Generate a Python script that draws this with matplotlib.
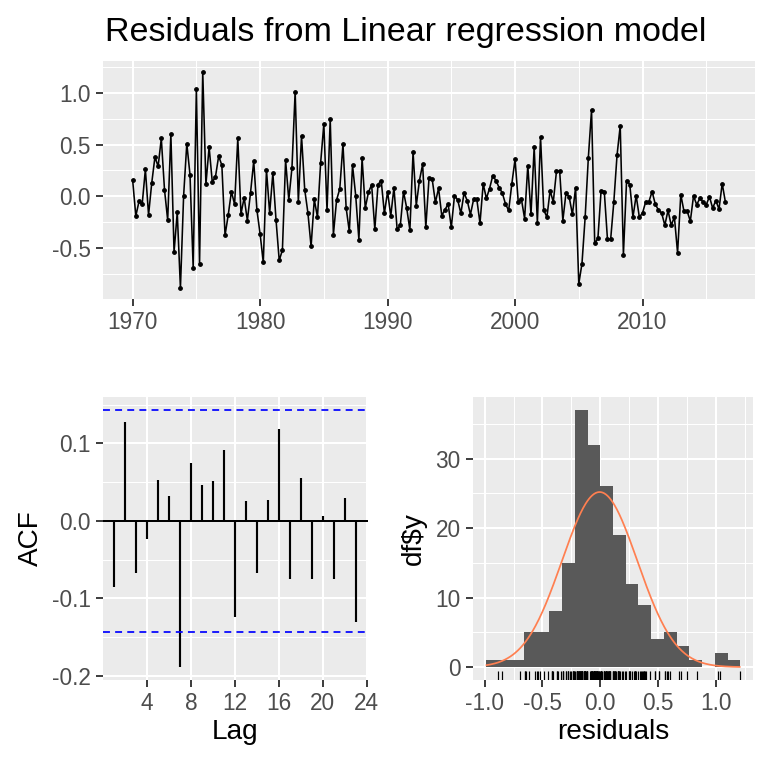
import numpy as np
import matplotlib
matplotlib.use("Agg")
import matplotlib.pyplot as plt
from matplotlib.ticker import FixedLocator

# ----- Data -----
start_year = 1970.0
freq = 4
residuals = [
    0.16, -0.19, -0.05, -0.075, 0.26, -0.18, 0.13, 0.38, 0.29, 0.56,
    0.065, -0.23, 0.60, -0.54, -0.156, -0.885, 0.004, 0.51, 0.21, -0.69,
    1.035, -0.65, 1.205, 0.117, 0.476, 0.137, 0.19, 0.39, 0.30, -0.377,
    -0.18, 0.046, -0.078, 0.56, -0.17, -0.013, -0.234, 0.036, 0.34, -0.133,
    -0.364, -0.64, 0.254, -0.162, 0.225, -0.23, -0.62, -0.52, 0.35, -0.035,
    0.277, 1.013, -0.055, 0.583, 0.065, -0.16, -0.485, -0.03, -0.2, 0.325,
    0.70, -0.137, 0.746, -0.37, -0.035, 0.072, 0.505, -0.112, -0.34, 0.30,
    0.007, -0.42, 0.368, -0.113, 0.039, 0.111, -0.32, 0.114, 0.153, -0.166,
    0.046, -0.19, 0.085, -0.32, -0.28, 0.046, -0.113, -0.325, 0.427, -0.09,
    0.153, 0.31, -0.30, 0.173, 0.166, -0.059, 0.078, -0.186, -0.13, -0.074,
    -0.30, 0.007, -0.035, -0.166, 0.033, -0.042, -0.176, -0.029, -0.029, -0.26,
    0.121, -0.02, 0.075, 0.199, 0.153, 0.085, 0.033, -0.074, -0.137, 0.124,
    0.358, -0.052,
    -0.029, -0.215, 0.297, -0.175, 0.476, -0.254, 0.573, -0.133, -0.201, 0.056,
    -0.055, 0.244, 0.244, -0.234, 0.036, -0.009, -0.175, 0.085, -0.846, -0.651,
    -0.201, 0.375, 0.834, -0.455, -0.407, 0.056, 0.046, -0.416, -0.416, -0.052,
    0.397, 0.681, -0.563, 0.153, 0.114, -0.201, 0.007, -0.201, -0.162, -0.052,
    -0.052, 0.046, -0.075, -0.133, -0.162, -0.28, -0.136, -0.28, -0.201, -0.547,
    0.017, -0.143, -0.143, -0.24, 0.003, -0.081, -0.019, -0.055, -0.081, -0.003,
    -0.114, -0.042, -0.123, 0.124, -0.055,
]
acf_lags = list(range(1, 24))
acf_values = [
    -0.085, 0.128, -0.067, -0.023, 0.053, 0.032, -0.189, 0.075, 0.046, 0.052,
    0.091, -0.124, 0.025, -0.067, 0.027, 0.119, -0.075, 0.055, -0.075, 0.006,
    -0.075, 0.029, -0.131,
]
hist_bins = 19

res = np.array(residuals)
n = len(res)
time = start_year + np.arange(n) / freq

# ----- Style -----
plt.rcParams['font.family'] = ['Liberation Sans', 'DejaVu Sans']
plt.rcParams['axes.unicode_minus'] = False
panel_bg = "#EBEBEB"
tick_col = "#4D4D4D"
tick_size = 17
title_size = 21


def gg_axes(ax, xmajor, xminor, ymajor, yminor):
    ax.set_facecolor(panel_bg)
    for s in ax.spines.values():
        s.set_visible(False)
    ax.xaxis.set_major_locator(FixedLocator(xmajor))
    ax.yaxis.set_major_locator(FixedLocator(ymajor))
    ax.xaxis.set_minor_locator(FixedLocator(xminor))
    ax.yaxis.set_minor_locator(FixedLocator(yminor))
    ax.grid(which="major", color="white", linewidth=1.5)
    ax.grid(which="minor", color="white", linewidth=0.75)
    ax.set_axisbelow(True)
    ax.tick_params(which="major", length=5.3, width=1.4, color="#333333",
                   labelsize=tick_size, labelcolor=tick_col, pad=4)
    ax.tick_params(which="minor", length=0)


fig = plt.figure(figsize=(8, 8), dpi=96)

# ----- Time plot -----
ax1 = fig.add_axes([0.1341, 0.6112, 0.849, 0.3094])
gg_axes(ax1, [1970, 1980, 1990, 2000, 2010], [1975, 1985, 1995, 2005, 2015],
        [-0.5, 0.0, 0.5, 1.0], [-0.75, -0.25, 0.25, 0.75, 1.25])
ax1.plot(time, res, color="black", linewidth=1.2, zorder=3)
ax1.plot(time, res, "o", color="black", markersize=2.6, zorder=4)
xr = time.max() - time.min()
ax1.set_xlim(time.min() - 0.05 * xr, time.max() + 0.05 * xr)
yr = res.max() - res.min()
ax1.set_ylim(res.min() - 0.05 * yr, res.max() + 0.05 * yr)
ax1.set_yticklabels(["-0.5", "0.0", "0.5", "1.0"])
fig.text(0.137, 0.958, "Residuals from Linear regression model",
         fontsize=25.5, ha="left", va="center")

# ----- ACF -----
ax2 = fig.add_axes([0.1341, 0.1146, 0.345, 0.3685])
gg_axes(ax2, [4, 8, 12, 16, 20, 24], [],
        [-0.2, -0.1, 0.0, 0.1], [-0.15, -0.05, 0.05, 0.15])
ci = 1.96 / np.sqrt(n)
ax2.axhline(0, color="black", linewidth=1.5, zorder=3)
ax2.vlines(acf_lags, 0, acf_values, color="black", linewidth=1.6, zorder=3)
ax2.axhline(ci, color="blue", linewidth=1.3, linestyle=(0, (4, 3)), zorder=3)
ax2.axhline(-ci, color="blue", linewidth=1.3, linestyle=(0, (4, 3)), zorder=3)
ax2.set_xlim(0.0, 24.1)
lo = min(min(acf_values), -ci)
hi = max(max(acf_values), ci)
ax2.set_ylim(lo - 0.05 * (hi - lo), hi + 0.05 * (hi - lo))
ax2.set_yticklabels(["-0.2", "-0.1", "0.0", "0.1"])
ax2.set_xlabel("Lag", fontsize=title_size, labelpad=3)
ax2.set_ylabel("ACF", fontsize=title_size, labelpad=6)

# ----- Histogram -----
ax3 = fig.add_axes([0.6159, 0.1146, 0.3646, 0.3685])
gg_axes(ax3, [-1.0, -0.5, 0.0, 0.5, 1.0], [-0.75, -0.25, 0.25, 0.75, 1.25],
        [0, 10, 20, 30], [5, 15, 25, 35])
bw = (res.max() - res.min()) / hist_bins
first = np.floor(res.min() / bw) * bw
edges = np.arange(first, res.max() + bw, bw)
counts, edges, _ = ax3.hist(res, bins=edges, color="#595959", zorder=2)
mu, sd = res.mean(), res.std(ddof=1)
xs = np.linspace(min(res.min(), mu - 3 * sd), max(res.max(), mu + 3 * sd), 300)
ys = n * bw * np.exp(-0.5 * ((xs - mu) / sd) ** 2) / (sd * np.sqrt(2 * np.pi))
ax3.plot(xs, ys, color="#FF7F50", linewidth=1.3, zorder=4)
ax3.vlines(res, 0, 0.03, color="black", linewidth=0.9,
           transform=ax3.get_xaxis_transform(), zorder=4)
xlo, xhi = min(edges[0], xs[0]), max(edges[-1], xs[-1])
ax3.set_xlim(xlo - 0.05 * (xhi - xlo), xhi + 0.05 * (xhi - xlo))
ytop = max(counts.max(), ys.max())
ax3.set_ylim(-0.05 * ytop, 1.05 * ytop)
ax3.set_xticklabels(["-1.0", "-0.5", "0.0", "0.5", "1.0"])
ax3.set_xlabel("residuals", fontsize=title_size, labelpad=3)
ax3.set_ylabel("df$y", fontsize=title_size, labelpad=6)

fig.savefig("out.png", dpi=96, facecolor="white")
